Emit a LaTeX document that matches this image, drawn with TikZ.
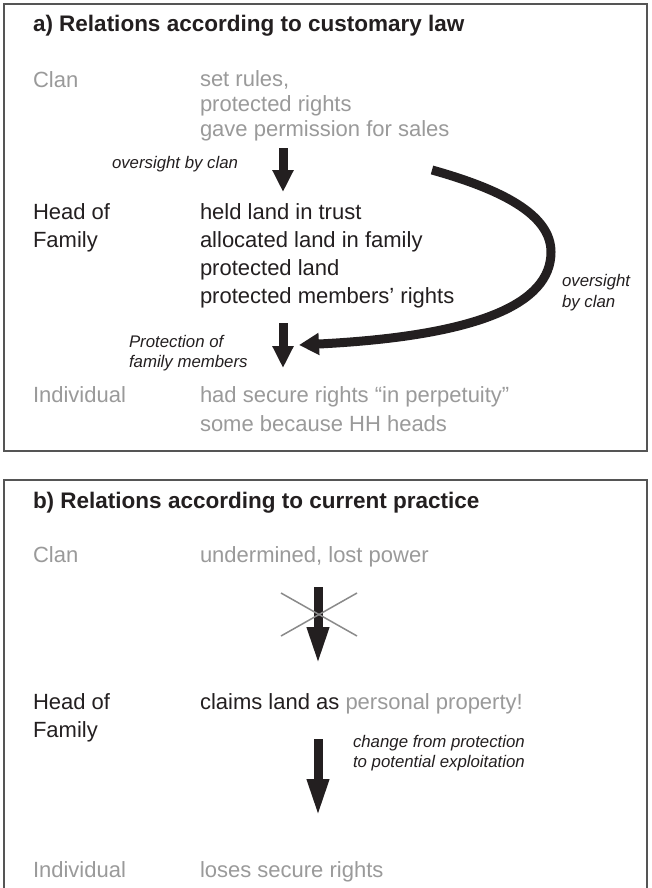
\documentclass[tikz,border=0pt]{standalone}
\usepackage{fontspec}
\setmainfont{Liberation Sans}
\usetikzlibrary{arrows.meta}
\definecolor{txtblack}{HTML}{231F20}
\definecolor{txtgray}{HTML}{9A9A9A}
\definecolor{boxgray}{HTML}{555555}
\definecolor{crossgray}{HTML}{8A8A8A}
\tikzset{
  txt/.style={anchor=base west, inner sep=0pt, outer sep=0pt, text=txtblack,
    font=\fontsize{22}{26}\selectfont},
  gtxt/.style={txt, text=txtgray},
  ttl/.style={txt, font=\fontsize{22.5}{26}\selectfont\bfseries},
  lbl/.style={anchor=base west, inner sep=0pt, outer sep=0pt, text=txtblack,
    font=\fontsize{16.8}{20}\selectfont\itshape},
  panel/.style={draw=boxgray, line width=1.3pt},
  shortarrow/.style={draw=txtblack, line width=9pt, -{Triangle[length=22pt,width=20pt]}},
  longarrow/.style={draw=txtblack, line width=9pt, -{Triangle[length=38pt,width=20pt]}},
  curvearrow/.style={draw=txtblack, line width=9pt, -{Triangle[length=20pt,width=21pt]}},
  crossline/.style={draw=crossgray, line width=1.5pt},
}
\begin{document}
\begin{tikzpicture}[x=1pt,y=-1pt]
\useasboundingbox (0,0) rectangle (651,888);
\fill[white] (0,0) rectangle (651,888);

% ---------- panel a ----------
\draw[panel] (4,4) rectangle (647,451);
\node[ttl] (ta) at (33,32) {a) Relations according to customary law};

\node[gtxt] (clanA) at (33,88) {Clan};
\node[gtxt] (ca1) at (200,87) {set rules,};
\node[gtxt] (ca2) at (200,111) {protected rights};
\node[gtxt] (ca3) at (200,136) {gave permission for sales};

\node[lbl] (ova) at (112,168) {oversight by clan};

\node[txt] (hfA1) at (33,219) {Head of};
\node[txt] (hfA2) at (33,247) {Family};
\node[txt] (ha1) at (200,219) {held land in trust};
\node[txt] (ha2) at (200,247) {allocated land in family};
\node[txt] (ha3) at (200,275) {protected land};
\node[txt] (ha4) at (200,303) {protected members’ rights};

\node[lbl] (ovr1) at (562,286) {oversight};
\node[lbl] (ovr2) at (562,307) {by clan};

\node[lbl] (pr1) at (129,347) {Protection of};
\node[lbl] (pr2) at (129,367) {family members};

\node[gtxt] (indA) at (33,402) {Individual};
\node[gtxt] (ia1) at (200,402) {had secure rights “in perpetuity”};
\node[gtxt] (ia2) at (200,431) {some because HH heads};

\coordinate (a1s) at (283,148);
\coordinate (a1e) at (283,192);
\draw[shortarrow] (a1s) -- (a1e);

\coordinate (a2s) at (283,323);
\coordinate (a2e) at (283,368);
\draw[shortarrow] (a2s) -- (a2e);

\coordinate (cvs) at (432,170);
\coordinate (cvm) at (551,252);
\coordinate (cve) at (299,345);
\draw[curvearrow] (cvs) .. controls (500,189) and (551,214) .. (cvm)
  .. controls (551,304) and (478,336) .. (cve);

% ---------- panel b ----------
\draw[panel] (4,900) -- (4,480) -- (647,480) -- (647,900);
\node[ttl] (tb) at (33,508) {b) Relations according to current practice};

\node[gtxt] (clanB) at (33,562) {Clan};
\node[gtxt] (cb1) at (200,562) {undermined, lost power};

\coordinate (b1s) at (318,587);
\coordinate (b1e) at (318,665);
\draw[longarrow] (b1s) -- (b1e);
\coordinate (x1) at (281,593);
\coordinate (x2) at (357,636);
\coordinate (x3) at (281,636);
\coordinate (x4) at (357,593);
\draw[crossline] (x1) -- (x2);
\draw[crossline] (x3) -- (x4);

\node[txt] (hfB1) at (33,709) {Head of};
\node[txt] (hfB2) at (33,737) {Family};
\node[txt] (hb1) at (200,709) {claims land as \textcolor{txtgray}{personal property!}};

\coordinate (b2s) at (318,739);
\coordinate (b2e) at (318,817);
\draw[longarrow] (b2s) -- (b2e);

\node[lbl] (ch1) at (353,747) {change from protection};
\node[lbl] (ch2) at (353,767) {to potential exploitation};

\node[gtxt] (indB) at (33,877) {Individual};
\node[gtxt] (ib1) at (200,877) {loses secure rights};
\end{tikzpicture}
\end{document}
